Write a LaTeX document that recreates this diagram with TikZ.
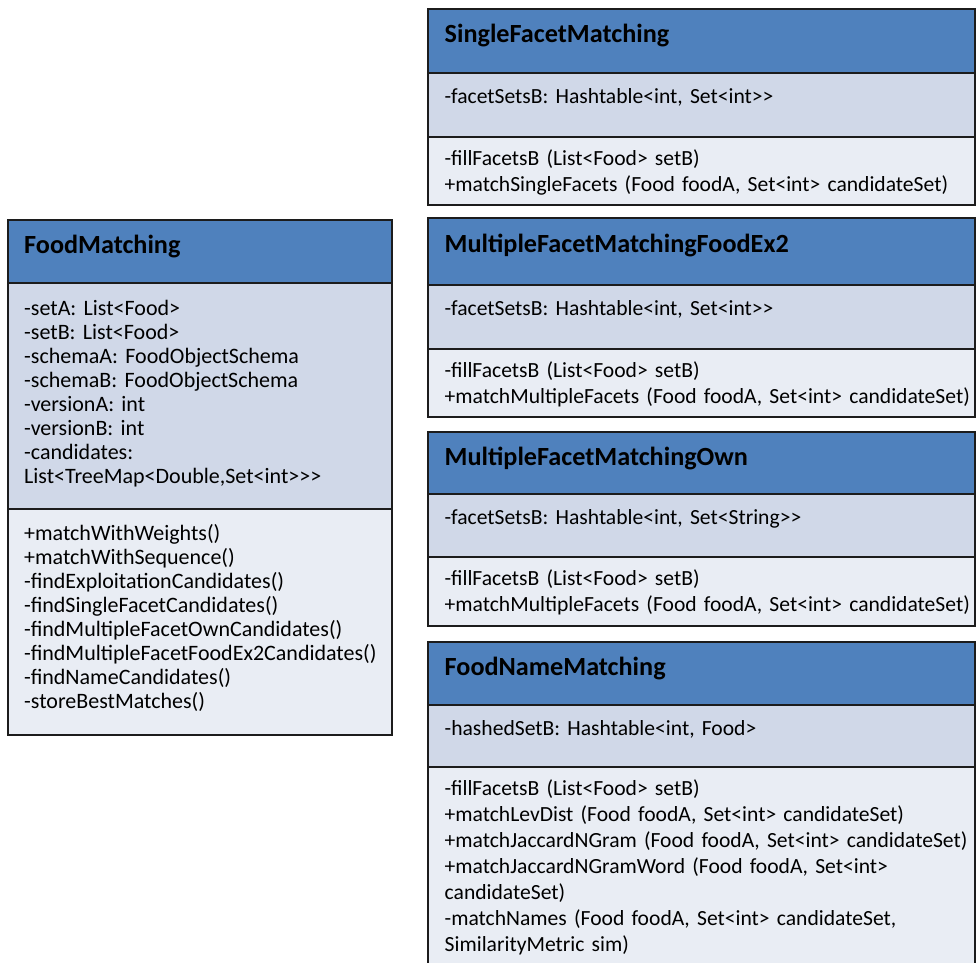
\documentclass[tikz,border=0pt]{standalone}
\usepackage{fontspec}
\newfontfamily\umlfont{Carlito}
\definecolor{headblue}{HTML}{4F81BD}
\definecolor{attrfill}{HTML}{D0D8E8}
\definecolor{methfill}{HTML}{E9EDF4}
\definecolor{rulecol}{HTML}{1C1C1C}

\tikzset{
  frame/.style={draw=rulecol, line width=2pt},
  titletext/.style={inner sep=0pt, anchor=base west,
    font=\umlfont\bfseries\fontsize{26.2}{30}\selectfont},
  membertext/.style={inner sep=0pt, anchor=base west, align=left, text width=540pt,
    font=\umlfont\fontsize{21.6}{26}\selectfont},
  compactmembers/.style={membertext, font=\umlfont\fontsize{22}{24}\selectfont}
}

% frame of a class: name, left, right, top, header bottom, attribute bottom, bottom, title
\newcommand\classframe[8]{%
  \fill[headblue] (#2,#4) rectangle (#3,#5);
  \fill[attrfill] (#2,#5) rectangle (#3,#6);
  \fill[methfill] (#2,#6) rectangle (#3,#7);
  \draw[frame] (#2,#4) rectangle (#3,#7);
  \draw[frame] (#2,#5) -- (#3,#5);
  \draw[frame] (#2,#6) -- (#3,#6);
  \node[titletext] (#1-title) at (#2+16.5,#4+33.5) {#8};
  \coordinate (#1-attr) at (#2+16.5,#5+30.5);
  \coordinate (#1-meth) at (#2+16.5,#6+28.5);
}

\begin{document}
\begin{tikzpicture}[x=1pt,y=-1pt]
\useasboundingbox (0,0) rectangle (978,963);
\clip (0,0) rectangle (978,963);

% FoodMatching
\classframe{fm}{7.5}{391.5}{220}{283}{508.5}{734.5}{FoodMatching}
\node[compactmembers] (fm-attrs) at ([yshift=-2pt]fm-attr) {-setA: List<Food>\\
-setB: List<Food>\\
-schemaA: FoodObjectSchema\\
-schemaB: FoodObjectSchema\\
-versionA: int\\
-versionB: int\\
-candidates:\\
List<TreeMap<Double,Set<int>>>};
\node[compactmembers] (fm-meths) at ([yshift=-3pt]fm-meth) {+matchWithWeights()\\
+matchWithSequence()\\
-findExploitationCandidates()\\
-findSingleFacetCandidates()\\
-findMultipleFacetOwnCandidates()\\
-findMultipleFacetFoodEx2Candidates()\\
-findNameCandidates()\\
-storeBestMatches()};

% SingleFacetMatching
\classframe{sf}{428}{975}{9.5}{73}{137}{205}{SingleFacetMatching}
\node[membertext] (sf-attrs) at (sf-attr) {-facetSetsB: Hashtable<int, Set<int>>};
\node[membertext] (sf-meths) at (sf-meth) {-fillFacetsB (List<Food> setB)\\
+matchSingleFacets (Food foodA, Set<int> candidateSet)};

% MultipleFacetMatchingFoodEx2
\classframe{mfe}{428}{975}{218.5}{285}{348.5}{417}{MultipleFacetMatchingFoodEx2}
\node[membertext] (mfe-attrs) at (mfe-attr) {-facetSetsB: Hashtable<int, Set<int>>};
\node[membertext] (mfe-meths) at (mfe-meth) {-fillFacetsB (List<Food> setB)\\
+matchMultipleFacets (Food foodA, Set<int> candidateSet)};

% MultipleFacetMatchingOwn
\classframe{mfo}{428}{975}{432}{493.5}{557}{626}{MultipleFacetMatchingOwn}
\node[membertext] (mfo-attrs) at (mfo-attr) {-facetSetsB: Hashtable<int, Set<String>>};
\node[membertext] (mfo-meths) at (mfo-meth) {-fillFacetsB (List<Food> setB)\\
+matchMultipleFacets (Food foodA, Set<int> candidateSet)};

% FoodNameMatching
\classframe{fn}{428}{975}{642}{704.5}{767}{975}{FoodNameMatching}
\node[membertext] (fn-attrs) at (fn-attr) {-hashedSetB: Hashtable<int, Food>};
\node[membertext] (fn-meths) at (fn-meth) {-fillFacetsB (List<Food> setB)\\
+matchLevDist (Food foodA, Set<int> candidateSet)\\
+matchJaccardNGram (Food foodA, Set<int> candidateSet)\\
+matchJaccardNGramWord (Food foodA, Set<int>\\
candidateSet)\\
-matchNames (Food foodA, Set<int> candidateSet,\\
SimilarityMetric sim)};
\end{tikzpicture}
\end{document}
